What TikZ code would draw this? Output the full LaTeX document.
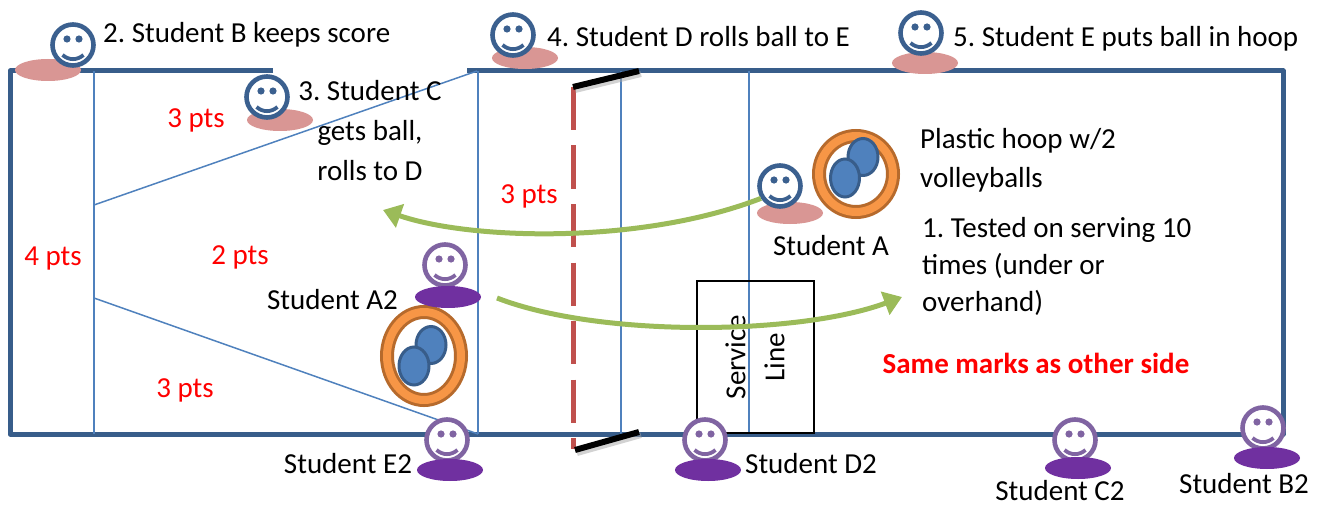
\documentclass[tikz,border=0pt]{standalone}
\usepackage{fontspec}
\setmainfont{Carlito}
\frenchspacing
\usetikzlibrary{arrows.meta}

\definecolor{courtblue}{RGB}{56,93,138}
\definecolor{lineblue}{RGB}{79,129,189}
\definecolor{faceblue}{RGB}{59,96,143}
\definecolor{facepurple}{RGB}{128,100,162}
\definecolor{basepink}{RGB}{217,150,148}
\definecolor{basepurple}{RGB}{112,48,160}
\definecolor{hooporange}{RGB}{247,150,70}
\definecolor{hoopbrown}{RGB}{182,106,44}
\definecolor{ballblue}{RGB}{79,129,189}
\definecolor{ballrim}{RGB}{56,93,138}
\definecolor{netred}{RGB}{192,80,77}
\definecolor{arrowgreen}{RGB}{155,187,89}
\definecolor{ptsred}{RGB}{255,0,0}

\tikzset{
  facehead/.style={circle, fill=white, line width=4.6pt, minimum size=41pt, inner sep=0pt},
  pics/face/.style={code={
    \node[facehead, draw=#1] (-head) at (0,0) {};
    \fill[#1] (-6,-6) circle[radius=3.6] (6,-6) circle[radius=3.6];
    \draw[#1, line width=3.8pt] (-10.5,10) .. controls (-4,15.5) and (4,15.5) .. (10.5,10);
  }},
  pinkbase/.style={fill=basepink},
  purplebase/.style={fill=basepurple},
  court/.style={draw=courtblue, line width=5pt, line join=round},
  courtline/.style={draw=lineblue, line width=1.5pt},
  hoopring/.style={draw=hoopbrown, line width=14pt},
  hoopinner/.style={draw=hooporange, line width=8pt},
  ball/.style={fill=ballblue, draw=ballrim, line width=3pt},
  netpost/.style={draw=black, line width=6pt},
  postshadow/.style={draw=black!35, line width=6pt, opacity=0.5},
  pass/.style={draw=arrowgreen, line width=5pt, -{Triangle[length=18pt, width=24pt]}},
  lbl/.style={inner sep=0pt, font=\fontsize{29}{39}\selectfont},
  pts/.style={lbl, text=ptsred},
}

\begin{document}
\begin{tikzpicture}[x=1pt, y=-1pt]
\useasboundingbox (0,0) rectangle (1317,508);

% court outline (the top edge is open between the two corner players)
\draw[court] (273,71) -- (10,71) -- (10,434) -- (1283,434) -- (1283,71) -- (467,71);

% scoring zones and attack lines
\draw[courtline] (94,71) -- (94,434);
\draw[courtline] (478,71) -- (478,434);
\draw[courtline] (621,71) -- (621,434);
\draw[courtline] (749,71) -- (749,434);
\draw[courtline] (94,205) -- (477,71);
\draw[courtline] (94,298) -- (478,434);

% service line box
\draw[black, line width=1.5pt] (697,281) rectangle (814,433);
\node[lbl, rotate=90, align=center] (service) at (755,357) {Service\\Line};

% net with its two posts
\draw[netred, line width=5pt, dash pattern=on 43pt off 15.5pt] (573,87) -- (573,449);
\draw[postshadow] (575,90) -- (641,74);
\draw[postshadow] (577,453) -- (641,435);
\draw[netpost] (573,87) -- (639,71);
\draw[netpost] (575,450) -- (639,432);

% hoops with two volleyballs each
\draw[hoopring] (856,174) ellipse[x radius=37, y radius=38];
\draw[hoopinner] (856,174) ellipse[x radius=37, y radius=38];
\draw[ball] (863,157) ellipse[x radius=15, y radius=18.5];
\draw[ball] (845,178) ellipse[x radius=14.5, y radius=19];

\draw[hoopring] (424,356) ellipse[x radius=37, y radius=44];
\draw[hoopinner] (424,356) ellipse[x radius=37, y radius=44];
\draw[ball] (431,345) ellipse[x radius=15, y radius=18.5];
\draw[ball] (414,366) ellipse[x radius=15, y radius=19];

% players of the serving team (blue)
\fill[pinkbase] (48,70) ellipse[x radius=33, y radius=11];
\pic (sB) at (73,45) {face=faceblue};
\fill[pinkbase] (280,120) ellipse[x radius=33, y radius=11];
\pic (sC) at (267,97) {face=faceblue};
\fill[pinkbase] (525,58) ellipse[x radius=33, y radius=11];
\pic (sD) at (513,35) {face=faceblue};
\fill[pinkbase] (925,63) ellipse[x radius=33, y radius=11];
\pic (sE) at (921,33) {face=faceblue};
\fill[pinkbase] (790,213) ellipse[x radius=33, y radius=11];
\pic (sA) at (780,186) {face=faceblue};

% players of the other team (purple)
\pic (pA) at (445,265) {face=facepurple};
\fill[purplebase] (448,297) ellipse[x radius=33, y radius=11];
\pic (pE) at (447,440) {face=facepurple};
\fill[purplebase] (450,470) ellipse[x radius=33, y radius=11];
\pic (pD) at (705,440) {face=facepurple};
\fill[purplebase] (708,470) ellipse[x radius=33, y radius=11];
\pic (pC) at (1075,440) {face=facepurple};
\fill[purplebase] (1078,468) ellipse[x radius=33, y radius=11];
\pic (pB) at (1263,428) {face=facepurple};
\fill[purplebase] (1267,458) ellipse[x radius=33, y radius=11];

% passes
\coordinate (backLeft) at (383,210);
\coordinate (serveFrom) at (497,298);
\coordinate (serveTo) at (902,297);
\draw[pass] (sA-head.213) .. controls (640,245) and (470,240) .. (backLeft);
\draw[pass] (serveFrom) .. controls (600,338) and (800,335) .. (serveTo);

% captions
\node[lbl, anchor=base west] (capB) at (103,43) {2. Student B keeps score};
\node[lbl, anchor=base west] (capD) at (547,47) {4. Student D rolls ball to E};
\node[lbl, anchor=base west] (capE) at (953,47) {5. Student E puts ball in hoop};
\node[lbl, anchor=north, align=center] (capC) at (370,80) {3. Student C\\[1pt]gets ball,\\[1pt]rolls to D};
\node[lbl, anchor=north west, align=left] (capHoop) at (920,128) {Plastic hoop w/2\\volleyballs};
\node[lbl, anchor=north west, align=left] (capTest) at (922,217) {1. Tested on serving 10\\[-2pt]times (under or\\[-2pt]overhand)};
\node[lbl, anchor=base] (nameA) at (831,255) {Student A};
\node[lbl, anchor=base east] (nameA2) at (398,309) {Student A2};
\node[lbl, anchor=base] (nameE2) at (348,473) {Student E2};
\node[lbl, anchor=base west] (nameD2) at (745,473) {Student D2};
\node[lbl, anchor=base] (nameC2) at (1060,500) {Student C2};
\node[lbl, anchor=base] (nameB2) at (1244,493) {Student B2};

% zone values
\node[pts, anchor=base] (z1) at (196,128) {3 pts};
\node[pts, anchor=base] (z2) at (529,203) {3 pts};
\node[pts, anchor=base] (z3) at (240,264) {2 pts};
\node[pts, anchor=base] (z4) at (53,265) {4 pts};
\node[pts, anchor=base] (z5) at (185,397) {3 pts};
\node[pts, anchor=base, font=\fontsize{29}{39}\selectfont\bfseries] (same) at (1036,373) {Same marks as other side};
\end{tikzpicture}
\end{document}
